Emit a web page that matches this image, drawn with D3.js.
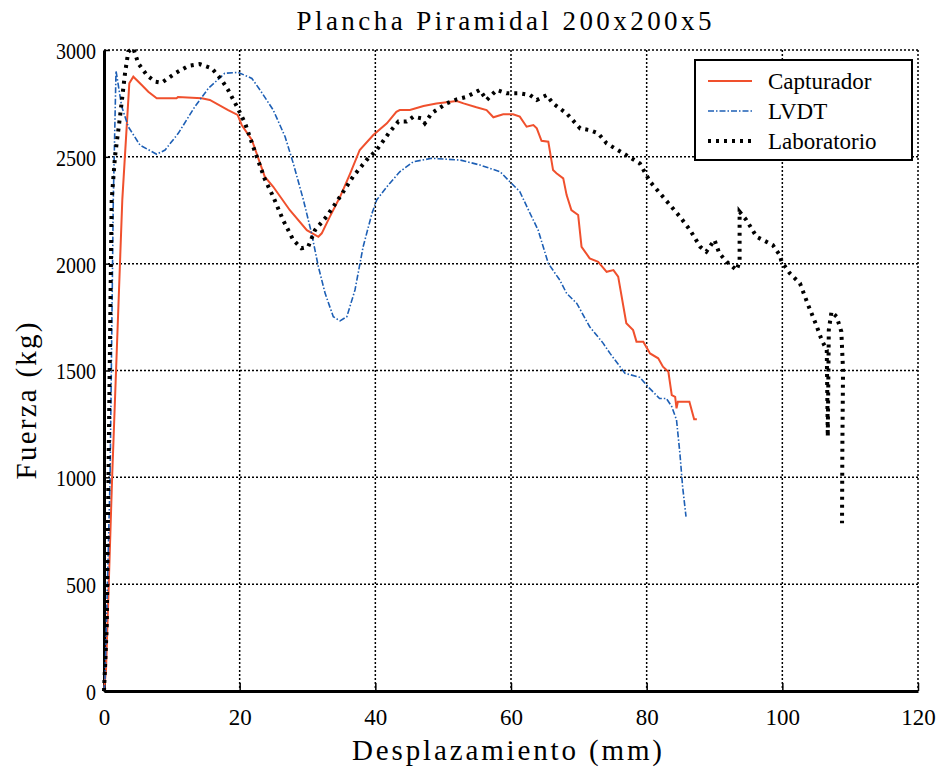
<!DOCTYPE html>
<html>
<head>
<meta charset="utf-8">
<script src="https://cdn.jsdelivr.net/npm/d3@7"></script>
<style>
  body { margin: 0; background: #fff; }
  svg text { font-family: "Liberation Serif", "Times New Roman", Times, serif; fill: #000; }
</style>
</head>
<body>
<div id="chart"></div>
<script>
// Plancha Piramidal 200x200x5 - Fuerza vs Desplazamiento

// Series data [mm, kg]
var capturador = [
  [0, 0], [0.3, 100], [1.2, 1000], [2.7, 2300], [3.73, 2844], [4.32, 2875], [5.56, 2836],
  [6.53, 2805], [7.77, 2774], [10.7, 2774], [10.9, 2780], [14.4, 2774], [15.6, 2766],
  [18.3, 2719], [19.7, 2696], [20.3, 2649], [21.8, 2579], [23.7, 2407], [24.95, 2360],
  [27.4, 2250], [29.9, 2157], [31.6, 2126], [32.1, 2142], [33.3, 2220], [34.8, 2313],
  [36.3, 2423], [37.7, 2532], [39.7, 2602], [41.7, 2657], [43.1, 2711], [43.6, 2719],
  [45.1, 2719], [47.1, 2738], [49.0, 2750], [52.0, 2761], [53.0, 2750], [54.9, 2732],
  [56.4, 2719], [57.4, 2685], [58.85, 2699], [60.3, 2699], [61.3, 2688], [62.3, 2641],
  [63.3, 2649], [63.8, 2633], [64.5, 2575], [65.5, 2571], [66.2, 2438], [66.7, 2423],
  [67.7, 2399], [68.2, 2321], [68.9, 2251], [69.9, 2228], [70.4, 2079], [71.6, 2025],
  [72.85, 2009], [74.1, 1962], [75.1, 1970], [75.8, 1939], [77.0, 1721], [78.0, 1689],
  [78.5, 1635], [79.5, 1635], [80.5, 1580], [81.7, 1557], [82.4, 1518], [83.2, 1494],
  [83.7, 1385], [84.2, 1377], [84.4, 1323], [84.6, 1354], [86.3, 1354], [87.0, 1272],
  [87.4, 1272]
];

var lvdt = [
  [0, 0], [0.15, 50], [0.9, 1000], [1.37, 2298], [1.77, 2903], [2.61, 2735], [3.58, 2641],
  [5.3, 2555], [7.77, 2512], [9.0, 2532], [10.95, 2610], [13.4, 2735], [15.4, 2821],
  [17.8, 2891], [19.8, 2895], [21.8, 2867], [23.0, 2813], [24.95, 2719], [26.7, 2594],
  [27.9, 2470], [29.4, 2298], [30.6, 2142], [31.6, 1986], [32.6, 1861], [33.8, 1752],
  [34.8, 1732], [35.8, 1752], [37.0, 1877], [38.2, 2079], [39.5, 2235], [40.2, 2298],
  [41.7, 2360], [43.6, 2430], [45.6, 2477], [48.3, 2493], [52.5, 2485], [55.4, 2462],
  [58.4, 2430], [59.6, 2391], [61.3, 2337], [62.8, 2236], [64.0, 2157], [65.5, 2001],
  [67.2, 1923], [68.2, 1861], [69.7, 1814], [71.6, 1705], [73.6, 1627], [74.6, 1580],
  [76.8, 1487], [79.0, 1468], [80.2, 1424], [81.9, 1369], [82.9, 1369], [83.7, 1331],
  [84.4, 1269], [84.9, 1112], [85.3, 956], [85.8, 816]
];

var laboratorio = [
  [0, 0], [0.4, 300], [1.13, 2298], [1.62, 2501], [2.36, 2688], [3.1, 2891], [3.58, 2992],
  [4.32, 3008], [5.06, 2937], [6.3, 2883], [7.5, 2852], [8.5, 2847], [10.5, 2891],
  [12.4, 2925], [14.1, 2934], [15.9, 2914], [17.35, 2860], [18.3, 2813], [19.6, 2735],
  [20.8, 2657], [22.0, 2547], [23.7, 2396], [24.95, 2313], [26.4, 2204], [27.9, 2111],
  [29.1, 2072], [30.1, 2079], [31.1, 2157], [32.8, 2220], [34.8, 2313], [36.7, 2407],
  [38.7, 2485], [40.2, 2532], [42.15, 2618], [43.4, 2665], [44.6, 2665], [45.6, 2688],
  [46.8, 2680], [47.3, 2657], [48.3, 2704], [50.5, 2750], [52.0, 2769], [53.45, 2781],
  [55.4, 2813], [56.4, 2766], [57.9, 2813], [59.35, 2797], [61.3, 2797], [62.8, 2789],
  [63.8, 2766], [65.25, 2789], [66.2, 2750], [68.2, 2703], [70.2, 2633], [71.6, 2625],
  [72.85, 2610], [74.1, 2563], [77.0, 2508], [79.0, 2469], [80.5, 2384], [82.4, 2313],
  [84.9, 2220], [86.4, 2157], [87.9, 2079], [88.8, 2056], [90.0, 2111], [90.7, 2049],
  [91.8, 2009], [93.25, 1970], [93.7, 2009], [93.7, 2243], [94.7, 2204], [96.2, 2126],
  [98.6, 2087], [99.6, 2041], [99.9, 2009], [101.1, 1955], [102.6, 1908], [103.8, 1807],
  [105.0, 1713], [105.8, 1643], [106.55, 1596], [106.7, 1190], [106.85, 1690],
  [107.25, 1775], [108.0, 1752], [108.7, 1682], [108.95, 1502], [108.85, 1143], [108.8, 785]
];

var xTicks = [0, 20, 40, 60, 80, 100, 120];
var yTicks = [0, 500, 1000, 1500, 2000, 2500, 3000];
var legendNames = ["Capturador", "LVDT", "Laboratorio"];

var serif = '"Liberation Serif", "Times New Roman", Times, serif';

// Chart dimensions
var svgWidth = 942;
var svgHeight = 767;
var margin = { top: 50, right: 24, bottom: 76, left: 104 };
var chartWidth = svgWidth - margin.left - margin.right;
var chartHeight = svgHeight - margin.top - margin.bottom;

var svg = d3.select("#chart")
  .append("svg")
  .attr("width", svgWidth)
  .attr("height", svgHeight);

var chartGroup = svg.append("g")
  .attr("transform", `translate(${margin.left}, ${margin.top})`);

// Scales
var xScale = d3.scaleLinear().domain([0, 120]).range([0, chartWidth]);
var yScale = d3.scaleLinear().domain([0, 3000]).range([chartHeight, 0]);

// Grid lines (dotted)
chartGroup.append("g")
  .selectAll("line")
  .data(xTicks.slice(1))
  .enter()
  .append("line")
  .attr("x1", d => xScale(d))
  .attr("x2", d => xScale(d))
  .attr("y1", 0)
  .attr("y2", chartHeight)
  .attr("stroke", "#000")
  .attr("stroke-width", 1.5)
  .attr("stroke-dasharray", "2,2");

chartGroup.append("g")
  .selectAll("line")
  .data(yTicks.slice(1))
  .enter()
  .append("line")
  .attr("x1", 0)
  .attr("x2", chartWidth)
  .attr("y1", d => yScale(d))
  .attr("y2", d => yScale(d))
  .attr("stroke", "#000")
  .attr("stroke-width", 1.5)
  .attr("stroke-dasharray", "2,2");

// Axes (ticks pointing inward)
var bottomAxis = d3.axisBottom(xScale).tickValues(xTicks).tickFormat(d3.format("d"))
  .tickSizeInner(-8).tickSizeOuter(0).tickPadding(17);
var leftAxis = d3.axisLeft(yScale).tickValues(yTicks).tickFormat(d3.format("d"))
  .tickSizeInner(-6).tickSizeOuter(0).tickPadding(8);

var xAxis = chartGroup.append("g")
  .attr("transform", `translate(0, ${chartHeight})`)
  .call(bottomAxis);

var yAxis = chartGroup.append("g")
  .call(leftAxis);

[xAxis, yAxis].forEach(ax => {
  ax.attr("font-family", serif);
  ax.select(".domain").attr("stroke", "#000").attr("stroke-width", 3);
  ax.selectAll(".tick line").attr("stroke", "#000").attr("stroke-width", 1.5);
  ax.selectAll(".tick text")
    .style("font-family", serif)
    .style("font-size", "24px")
    .attr("fill", "#000")
    .attr("lengthAdjust", "spacingAndGlyphs");
});
// narrow, tall digits as in the original
yAxis.selectAll(".tick text").attr("dy", "0.35em")
  .attr("textLength", d => String(d).length * 10);
xAxis.selectAll(".tick text")
  .attr("textLength", d => String(d).length * 11.5);

// Line generator
var line = d3.line()
  .x(d => xScale(d[0]))
  .y(d => yScale(d[1]));

var styles = [
  { data: capturador, color: "#f0502d", width: 2, dash: null },
  { data: lvdt, color: "#1d5fb5", width: 1.6, dash: "6,2,1.5,2" },
  { data: laboratorio, color: "#000", width: 4, dash: "3,5" }
];

styles.forEach(s => {
  chartGroup.append("path")
    .datum(s.data)
    .attr("fill", "none")
    .attr("stroke", s.color)
    .attr("stroke-width", s.width)
    .attr("stroke-dasharray", s.dash)
    .attr("d", line);
});

// Legend
var legend = svg.append("g").attr("transform", "translate(695, 60)");
legend.append("rect")
  .attr("width", 217)
  .attr("height", 100)
  .attr("fill", "#fff")
  .attr("stroke", "#000")
  .attr("stroke-width", 2);

legendNames.forEach((name, i) => {
  var y = 21 + i * 30;
  legend.append("line")
    .attr("x1", 13).attr("x2", 57)
    .attr("y1", y).attr("y2", y)
    .attr("stroke", styles[i].color)
    .attr("stroke-width", styles[i].width)
    .attr("stroke-dasharray", styles[i].dash);
  legend.append("text")
    .attr("x", 73)
    .attr("y", y + 8)
    .attr("font-size", 23)
    .text(name);
});

// Title and axis labels (letter-spaced like the original)
svg.append("text")
  .attr("x", 504)
  .attr("y", 30)
  .attr("text-anchor", "middle")
  .attr("font-size", 27)
  .attr("textLength", 415)
  .attr("lengthAdjust", "spacing")
  .text("Plancha Piramidal 200x200x5");

svg.append("text")
  .attr("x", 507)
  .attr("y", 760)
  .attr("text-anchor", "middle")
  .attr("font-size", 29)
  .attr("textLength", 310)
  .attr("lengthAdjust", "spacing")
  .text("Desplazamiento (mm)");

svg.append("text")
  .attr("transform", "translate(36, 401) rotate(-90)")
  .attr("text-anchor", "middle")
  .attr("font-size", 29)
  .attr("textLength", 157)
  .attr("lengthAdjust", "spacing")
  .text("Fuerza (kg)");
</script>
</body>
</html>
